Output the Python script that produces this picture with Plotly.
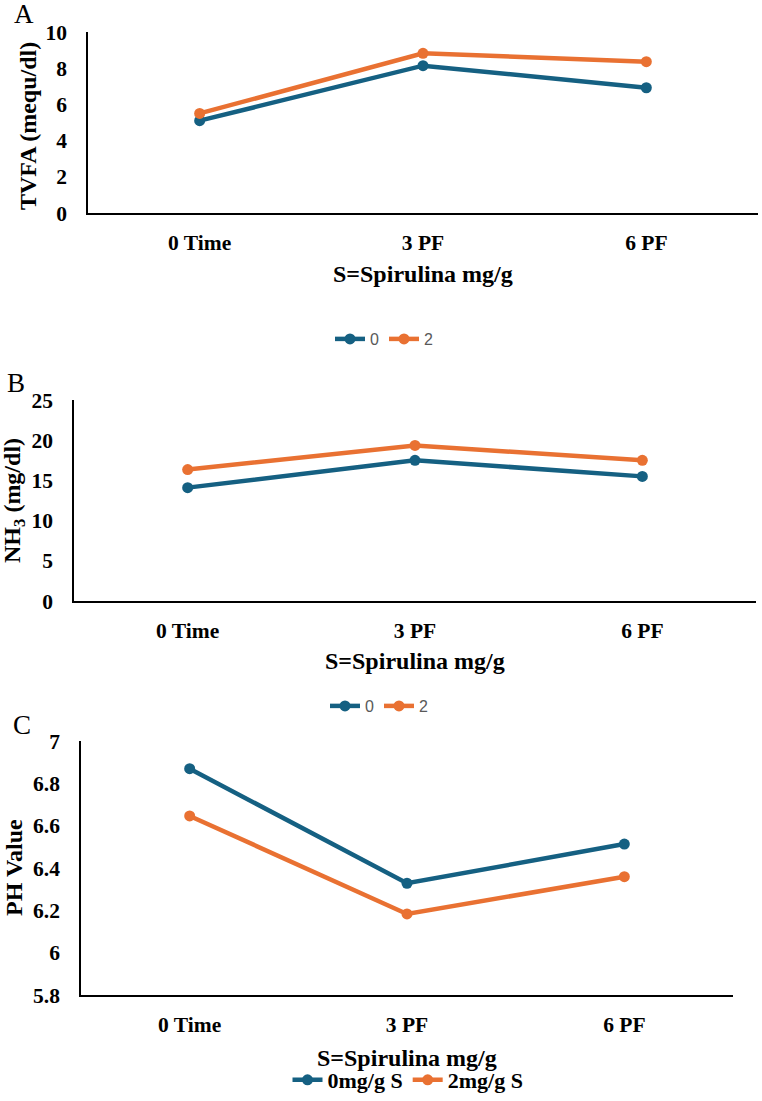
import plotly.graph_objects as go

W, H = 762, 1101

categories = ["0 Time", "3 PF", "6 PF"]

tvfa_0 = [5.1, 8.14, 6.92]
tvfa_2 = [5.5, 8.82, 8.36]

nh3_0 = [14.1, 17.5, 15.5]
nh3_2 = [16.35, 19.35, 17.5]

ph_0 = [6.869, 6.328, 6.513]
ph_2 = [6.646, 6.183, 6.359]

names_ab = ["0", "2"]
names_c = ["<b>0mg/g S</b>", "<b>2mg/g S</b>"]

BLUE = "#156082"
ORANGE = "#E97132"
SERIF = "Liberation Serif"
SANS = "Liberation Sans"


def px_x(v):
    return v / W


def px_y(v):
    return 1 - v / H


fig = go.Figure()

panels = [
    dict(x="x", y="y", data=(tvfa_0, tvfa_2), names=names_ab, legend="legend"),
    dict(x="x2", y="y2", data=(nh3_0, nh3_2), names=names_ab, legend="legend2"),
    dict(x="x3", y="y3", data=(ph_0, ph_2), names=names_c, legend="legend3"),
]

for p in panels:
    for vals, name, col in zip(p["data"], p["names"], [BLUE, ORANGE]):
        fig.add_trace(go.Scatter(
            x=categories, y=vals, name=name, mode="lines+markers",
            line=dict(color=col, width=4.5),
            marker=dict(color=col, size=11),
            xaxis=p["x"], yaxis=p["y"], legend=p["legend"],
        ))

tickfont = dict(family=SERIF, size=21.5, color="black")
cat_ticktext = ["<b>%s</b>" % c for c in categories]

xcommon = dict(type="category", range=[-0.5, 2.5], showgrid=False, zeroline=False,
               showline=True, linecolor="black", linewidth=1.5, ticks="",
               tickfont=tickfont, ticklabelstandoff=9, fixedrange=True,
               tickmode="array", tickvals=categories, ticktext=cat_ticktext)
ycommon = dict(showgrid=False, zeroline=False, showline=True, linecolor="black",
               linewidth=1.5, ticks="", tickfont=tickfont, ticklabelstandoff=15,
               fixedrange=True, tickprefix="<b>", ticksuffix="</b>")

fig.update_layout(
    width=W, height=H,
    margin=dict(l=0, r=0, t=0, b=0, autoexpand=False),
    paper_bgcolor="white", plot_bgcolor="white",
    xaxis=dict(xcommon, domain=[px_x(88), px_x(758)], anchor="y"),
    yaxis=dict(ycommon, domain=[px_y(213), px_y(32)], anchor="x", range=[0, 10], dtick=2),
    xaxis2=dict(xcommon, domain=[px_x(74), px_x(756)], anchor="y2"),
    yaxis2=dict(ycommon, domain=[px_y(601), px_y(400)], anchor="x2", range=[0, 25], dtick=5),
    xaxis3=dict(xcommon, domain=[px_x(81), px_x(733)], anchor="y3"),
    yaxis3=dict(ycommon, domain=[px_y(995), px_y(741)], anchor="x3", range=[5.8, 7], dtick=0.2),
    legend=dict(orientation="h", x=px_x(384), y=px_y(339), xanchor="center", yanchor="middle",
                font=dict(family=SANS, size=16, color="#595959"),
                bgcolor="rgba(0,0,0,0)"),
    legend2=dict(orientation="h", x=px_x(379), y=px_y(706), xanchor="center", yanchor="middle",
                 font=dict(family=SANS, size=16, color="#595959"),
                 bgcolor="rgba(0,0,0,0)"),
    legend3=dict(orientation="h", x=px_x(408), y=0, xanchor="center", yanchor="bottom",
                 font=dict(family=SERIF, size=22, color="black"),
                 bgcolor="rgba(0,0,0,0)"),
)

titlefont = dict(family=SERIF, size=24, color="black")
labelfont = dict(family=SERIF, size=27, color="black")

annotations = [
    # x-axis titles
    dict(text="<b>S=Spirulina mg/g</b>", x=px_x(423), y=px_y(274), font=titlefont),
    dict(text="<b>S=Spirulina mg/g</b>", x=px_x(415), y=px_y(661), font=titlefont),
    dict(text="<b>S=Spirulina mg/g</b>", x=px_x(407), y=px_y(1058), font=titlefont),
    # y-axis titles
    dict(text="<b>TVFA (mequ/dl)</b>", x=px_x(28), y=px_y(126), font=titlefont, textangle=-90),
    dict(text="<b>NH<sub>3</sub> (mg/dl)</b>", x=px_x(14), y=px_y(501), font=titlefont, textangle=-90),
    dict(text="<b>PH Value</b>", x=px_x(14), y=px_y(868), font=titlefont, textangle=-90),
    # panel labels
    dict(text="A", x=px_x(24), y=px_y(14), font=labelfont),
    dict(text="B", x=px_x(16), y=px_y(383), font=labelfont),
    dict(text="C", x=px_x(22), y=px_y(725), font=labelfont),
]
for a in annotations:
    fig.add_annotation(xref="paper", yref="paper", showarrow=False,
                       xanchor="center", yanchor="middle", **a)

fig.write_html("out.html")
